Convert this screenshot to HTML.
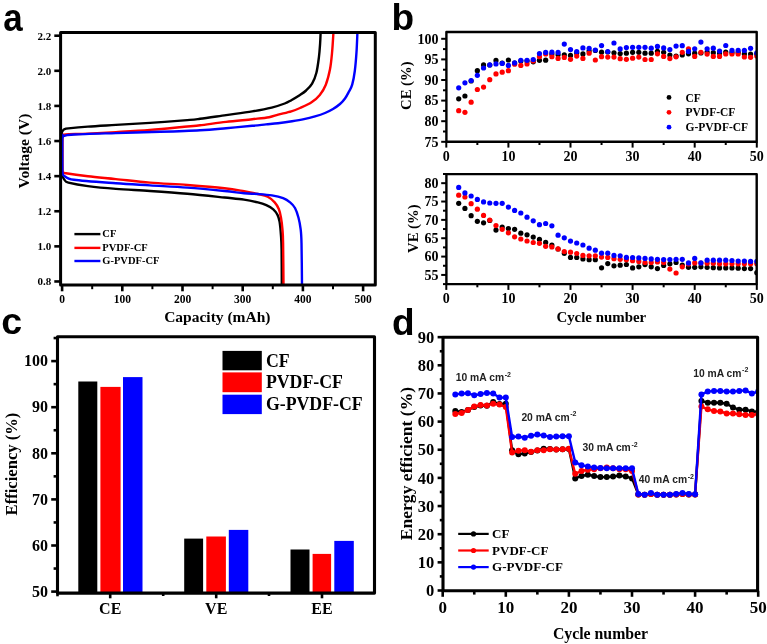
<!DOCTYPE html>
<html><head><meta charset="utf-8"><style>
html,body{margin:0;padding:0;background:#fff;width:767px;height:644px;overflow:hidden}
svg{display:block;will-change:transform}
</style></head><body>
<svg width="767" height="644" viewBox="0 0 767 644">
<rect width="767" height="644" fill="#fff"/>
<line x1="54.30" y1="35.70" x2="60.60" y2="35.70" stroke="#000" stroke-width="2.6" stroke-linecap="butt"/>
<text x="51.2" y="39.6" style="font-family:'Liberation Serif',serif;font-weight:bold;font-size:11px" text-anchor="end" fill="#000" >2.2</text>
<line x1="54.30" y1="70.81" x2="60.60" y2="70.81" stroke="#000" stroke-width="2.6" stroke-linecap="butt"/>
<text x="51.2" y="74.7" style="font-family:'Liberation Serif',serif;font-weight:bold;font-size:11px" text-anchor="end" fill="#000" >2.0</text>
<line x1="54.30" y1="105.92" x2="60.60" y2="105.92" stroke="#000" stroke-width="2.6" stroke-linecap="butt"/>
<text x="51.2" y="109.8" style="font-family:'Liberation Serif',serif;font-weight:bold;font-size:11px" text-anchor="end" fill="#000" >1.8</text>
<line x1="54.30" y1="141.03" x2="60.60" y2="141.03" stroke="#000" stroke-width="2.6" stroke-linecap="butt"/>
<text x="51.2" y="144.9" style="font-family:'Liberation Serif',serif;font-weight:bold;font-size:11px" text-anchor="end" fill="#000" >1.6</text>
<line x1="54.30" y1="176.14" x2="60.60" y2="176.14" stroke="#000" stroke-width="2.6" stroke-linecap="butt"/>
<text x="51.2" y="180.0" style="font-family:'Liberation Serif',serif;font-weight:bold;font-size:11px" text-anchor="end" fill="#000" >1.4</text>
<line x1="54.30" y1="211.25" x2="60.60" y2="211.25" stroke="#000" stroke-width="2.6" stroke-linecap="butt"/>
<text x="51.2" y="215.2" style="font-family:'Liberation Serif',serif;font-weight:bold;font-size:11px" text-anchor="end" fill="#000" >1.2</text>
<line x1="54.30" y1="246.36" x2="60.60" y2="246.36" stroke="#000" stroke-width="2.6" stroke-linecap="butt"/>
<text x="51.2" y="250.3" style="font-family:'Liberation Serif',serif;font-weight:bold;font-size:11px" text-anchor="end" fill="#000" >1.0</text>
<line x1="54.30" y1="281.47" x2="60.60" y2="281.47" stroke="#000" stroke-width="2.6" stroke-linecap="butt"/>
<text x="51.2" y="285.4" style="font-family:'Liberation Serif',serif;font-weight:bold;font-size:11px" text-anchor="end" fill="#000" >0.8</text>
<line x1="62.10" y1="285.10" x2="62.10" y2="291.30" stroke="#000" stroke-width="2.6" stroke-linecap="butt"/>
<text x="62.1" y="303.2" style="font-family:'Liberation Serif',serif;font-weight:bold;font-size:11.5px" text-anchor="middle" fill="#000" >0</text>
<line x1="122.30" y1="285.10" x2="122.30" y2="291.30" stroke="#000" stroke-width="2.6" stroke-linecap="butt"/>
<text x="122.3" y="303.2" style="font-family:'Liberation Serif',serif;font-weight:bold;font-size:11.5px" text-anchor="middle" fill="#000" >100</text>
<line x1="182.50" y1="285.10" x2="182.50" y2="291.30" stroke="#000" stroke-width="2.6" stroke-linecap="butt"/>
<text x="182.5" y="303.2" style="font-family:'Liberation Serif',serif;font-weight:bold;font-size:11.5px" text-anchor="middle" fill="#000" >200</text>
<line x1="242.70" y1="285.10" x2="242.70" y2="291.30" stroke="#000" stroke-width="2.6" stroke-linecap="butt"/>
<text x="242.7" y="303.2" style="font-family:'Liberation Serif',serif;font-weight:bold;font-size:11.5px" text-anchor="middle" fill="#000" >300</text>
<line x1="302.90" y1="285.10" x2="302.90" y2="291.30" stroke="#000" stroke-width="2.6" stroke-linecap="butt"/>
<text x="302.9" y="303.2" style="font-family:'Liberation Serif',serif;font-weight:bold;font-size:11.5px" text-anchor="middle" fill="#000" >400</text>
<line x1="363.10" y1="285.10" x2="363.10" y2="291.30" stroke="#000" stroke-width="2.6" stroke-linecap="butt"/>
<text x="363.1" y="303.2" style="font-family:'Liberation Serif',serif;font-weight:bold;font-size:11.5px" text-anchor="middle" fill="#000" >500</text>
<line x1="92.20" y1="285.10" x2="92.20" y2="289.20" stroke="#000" stroke-width="2.0" stroke-linecap="butt"/>
<line x1="152.40" y1="285.10" x2="152.40" y2="289.20" stroke="#000" stroke-width="2.0" stroke-linecap="butt"/>
<line x1="212.60" y1="285.10" x2="212.60" y2="289.20" stroke="#000" stroke-width="2.0" stroke-linecap="butt"/>
<line x1="272.80" y1="285.10" x2="272.80" y2="289.20" stroke="#000" stroke-width="2.0" stroke-linecap="butt"/>
<line x1="333.00" y1="285.10" x2="333.00" y2="289.20" stroke="#000" stroke-width="2.0" stroke-linecap="butt"/>
<text x="217.3" y="321.8" style="font-family:'Liberation Serif',serif;font-weight:bold;font-size:15.5px" text-anchor="middle" fill="#000" >Capacity (mAh)</text>
<text x="0.0" y="0.0" style="font-family:'Liberation Serif',serif;font-weight:bold;font-size:15.5px" text-anchor="middle" fill="#000" transform="translate(29.3,151) rotate(-90)">Voltage (V)</text>
<path d="M61.80,150.00 C61.80,154.00 61.63,169.50 61.80,174.00 C61.97,178.50 62.27,175.92 62.80,177.00 C63.33,178.08 64.07,179.57 65.00,180.50 C65.93,181.43 64.58,181.67 68.40,182.60 C72.22,183.53 79.98,185.05 87.90,186.10 C95.82,187.15 105.55,188.08 115.90,188.90 C126.25,189.72 138.10,190.18 150.00,191.00 C161.90,191.82 174.88,192.72 187.30,193.80 C199.72,194.88 215.05,196.53 224.50,197.50 C233.95,198.47 238.43,198.78 244.00,199.60 C249.57,200.42 254.18,201.47 257.90,202.40 C261.62,203.33 263.73,204.05 266.30,205.20 C268.87,206.35 271.43,207.68 273.30,209.30 C275.17,210.92 276.45,212.80 277.50,214.90 C278.55,217.00 279.02,218.40 279.60,221.90 C280.18,225.40 280.67,231.22 281.00,235.90 C281.33,240.58 281.47,241.82 281.60,250.00 C281.73,258.18 281.77,279.17 281.80,285.00" fill="none" stroke="#000" stroke-width="2.4" stroke-linejoin="round" stroke-linecap="butt"/>
<path d="M61.80,150.00 C61.80,147.33 61.67,137.17 61.80,134.00 C61.93,130.83 62.15,131.80 62.60,131.00 C63.05,130.20 63.53,129.63 64.50,129.20 C65.47,128.77 64.50,128.83 68.40,128.40 C72.30,127.97 79.98,127.18 87.90,126.60 C95.82,126.02 105.55,125.52 115.90,124.90 C126.25,124.28 138.10,123.70 150.00,122.90 C161.90,122.10 178.97,120.78 187.30,120.10 C195.63,119.42 193.53,119.63 200.00,118.80 C206.47,117.97 217.40,116.33 226.10,115.10 C234.80,113.87 244.60,112.65 252.20,111.40 C259.80,110.15 266.28,108.92 271.70,107.60 C277.12,106.28 281.43,104.73 284.70,103.50 C287.97,102.27 288.75,101.62 291.30,100.20 C293.85,98.78 297.53,96.62 300.00,95.00 C302.47,93.38 304.08,92.38 306.10,90.50 C308.12,88.62 310.38,86.67 312.10,83.70 C313.82,80.73 315.27,77.10 316.40,72.70 C317.53,68.30 318.28,62.13 318.90,57.30 C319.52,52.47 319.82,47.75 320.10,43.70 C320.38,39.65 320.52,34.78 320.60,33.00" fill="none" stroke="#000" stroke-width="2.4" stroke-linejoin="round" stroke-linecap="butt"/>
<path d="M62.50,150.00 C62.52,153.33 62.43,166.28 62.60,170.00 C62.77,173.72 62.93,171.75 63.50,172.30 C64.07,172.85 61.93,172.63 66.00,173.30 C70.07,173.97 79.58,175.33 87.90,176.30 C96.22,177.27 105.55,178.05 115.90,179.10 C126.25,180.15 138.10,181.62 150.00,182.60 C161.90,183.58 174.88,184.07 187.30,185.00 C199.72,185.93 215.05,187.17 224.50,188.20 C233.95,189.23 238.43,190.23 244.00,191.20 C249.57,192.17 253.95,193.07 257.90,194.00 C261.85,194.93 264.90,195.40 267.70,196.80 C270.50,198.20 272.83,200.32 274.70,202.40 C276.57,204.48 277.85,206.75 278.90,209.30 C279.95,211.85 280.42,214.43 281.00,217.70 C281.58,220.97 282.05,224.70 282.40,228.90 C282.75,233.10 282.92,233.55 283.10,242.90 C283.28,252.25 283.43,277.98 283.50,285.00" fill="none" stroke="#f00" stroke-width="2.4" stroke-linejoin="round" stroke-linecap="butt"/>
<path d="M62.50,150.00 C62.52,147.83 62.43,139.47 62.60,137.00 C62.77,134.53 63.02,135.63 63.50,135.20 C63.98,134.77 61.43,134.67 65.50,134.40 C69.57,134.13 79.50,133.98 87.90,133.60 C96.30,133.22 105.55,132.72 115.90,132.10 C126.25,131.48 138.10,130.83 150.00,129.90 C161.90,128.97 178.97,127.27 187.30,126.50 C195.63,125.73 193.53,126.07 200.00,125.30 C206.47,124.53 217.40,122.92 226.10,121.90 C234.80,120.88 245.03,119.98 252.20,119.20 C259.37,118.42 264.77,117.97 269.10,117.20 C273.43,116.43 274.50,115.58 278.20,114.60 C281.90,113.62 287.67,112.40 291.30,111.30 C294.93,110.20 296.68,109.45 300.00,108.00 C303.32,106.55 307.90,104.78 311.20,102.60 C314.50,100.42 317.37,97.88 319.80,94.90 C322.23,91.92 324.10,88.97 325.80,84.70 C327.50,80.43 328.95,74.72 330.00,69.30 C331.05,63.88 331.53,58.25 332.10,52.20 C332.67,46.15 333.18,36.20 333.40,33.00" fill="none" stroke="#f00" stroke-width="2.4" stroke-linejoin="round" stroke-linecap="butt"/>
<path d="M62.40,172.00 C62.50,172.42 62.65,173.83 63.00,174.50 C63.35,175.17 62.67,175.12 64.50,176.00 C66.33,176.88 65.43,178.58 74.00,179.80 C82.57,181.02 103.23,182.37 115.90,183.30 C128.57,184.23 138.10,184.68 150.00,185.40 C161.90,186.12 174.88,186.67 187.30,187.60 C199.72,188.53 215.05,190.05 224.50,191.00 C233.95,191.95 238.43,192.80 244.00,193.30 C249.57,193.80 253.25,193.65 257.90,194.00 C262.55,194.35 267.70,194.70 271.90,195.40 C276.10,196.10 280.07,197.03 283.10,198.20 C286.13,199.37 288.12,200.77 290.10,202.40 C292.08,204.03 293.60,205.45 295.00,208.00 C296.40,210.55 297.57,214.22 298.50,217.70 C299.43,221.18 300.10,224.70 300.60,228.90 C301.10,233.10 301.27,233.55 301.50,242.90 C301.73,252.25 301.92,277.98 302.00,285.00" fill="none" stroke="#00f" stroke-width="2.4" stroke-linejoin="round" stroke-linecap="butt"/>
<path d="M62.40,172.00 C62.40,166.33 62.27,143.92 62.40,138.00 C62.53,132.08 62.77,136.90 63.20,136.50 C63.63,136.10 63.20,135.93 65.00,135.60 C66.80,135.27 65.52,134.92 74.00,134.50 C82.48,134.08 101.57,133.55 115.90,133.10 C130.23,132.65 145.98,132.28 160.00,131.80 C174.02,131.32 188.98,130.80 200.00,130.20 C211.02,129.60 217.40,128.93 226.10,128.20 C234.80,127.47 245.55,126.43 252.20,125.80 C258.85,125.17 261.70,124.83 266.00,124.40 C270.30,123.97 273.67,123.72 278.00,123.20 C282.33,122.68 287.67,121.97 292.00,121.30 C296.33,120.63 300.17,120.02 304.00,119.20 C307.83,118.38 311.50,117.43 315.00,116.40 C318.50,115.37 322.00,114.23 325.00,113.00 C328.00,111.77 330.50,110.50 333.00,109.00 C335.50,107.50 338.00,105.75 340.00,104.00 C342.00,102.25 343.50,100.58 345.00,98.50 C346.50,96.42 347.80,93.80 349.00,91.50 C350.20,89.20 351.23,88.12 352.20,84.70 C353.17,81.28 354.08,76.42 354.80,71.00 C355.52,65.58 356.07,58.53 356.50,52.20 C356.93,45.87 357.25,36.20 357.40,33.00" fill="none" stroke="#00f" stroke-width="2.4" stroke-linejoin="round" stroke-linecap="butt"/>
<rect x="60.60" y="32.60" width="314.70" height="252.50" fill="none" stroke="#000" stroke-width="3.0" stroke-linejoin="round"/>
<line x1="74.40" y1="234.10" x2="100.40" y2="234.10" stroke="#000" stroke-width="2.4" stroke-linecap="butt"/>
<line x1="74.40" y1="247.90" x2="100.40" y2="247.90" stroke="#f00" stroke-width="2.4" stroke-linecap="butt"/>
<line x1="74.40" y1="261.00" x2="100.40" y2="261.00" stroke="#00f" stroke-width="2.4" stroke-linecap="butt"/>
<text x="102.3" y="237.3" style="font-family:'Liberation Serif',serif;font-weight:bold;font-size:10.5px" text-anchor="start" fill="#000" >CF</text>
<text x="102.3" y="251.1" style="font-family:'Liberation Serif',serif;font-weight:bold;font-size:10.5px" text-anchor="start" fill="#000" >PVDF-CF</text>
<text x="102.3" y="264.2" style="font-family:'Liberation Serif',serif;font-weight:bold;font-size:10.5px" text-anchor="start" fill="#000" >G-PVDF-CF</text>
<text x="0.0" y="0.0" style="font-family:'Liberation Sans',sans-serif;font-weight:bold;font-size:38px" text-anchor="start" fill="#000" transform="translate(3.3,30.9) scale(0.92,1)">a</text>
<line x1="441.20" y1="141.80" x2="446.40" y2="141.80" stroke="#000" stroke-width="2.0" stroke-linecap="butt"/>
<text x="438.6" y="146.5" style="font-family:'Liberation Serif',serif;font-weight:bold;font-size:14px" text-anchor="end" fill="#000" >75</text>
<line x1="441.20" y1="121.20" x2="446.40" y2="121.20" stroke="#000" stroke-width="2.0" stroke-linecap="butt"/>
<text x="438.6" y="125.9" style="font-family:'Liberation Serif',serif;font-weight:bold;font-size:14px" text-anchor="end" fill="#000" >80</text>
<line x1="441.20" y1="100.60" x2="446.40" y2="100.60" stroke="#000" stroke-width="2.0" stroke-linecap="butt"/>
<text x="438.6" y="105.3" style="font-family:'Liberation Serif',serif;font-weight:bold;font-size:14px" text-anchor="end" fill="#000" >85</text>
<line x1="441.20" y1="80.00" x2="446.40" y2="80.00" stroke="#000" stroke-width="2.0" stroke-linecap="butt"/>
<text x="438.6" y="84.7" style="font-family:'Liberation Serif',serif;font-weight:bold;font-size:14px" text-anchor="end" fill="#000" >90</text>
<line x1="441.20" y1="59.40" x2="446.40" y2="59.40" stroke="#000" stroke-width="2.0" stroke-linecap="butt"/>
<text x="438.6" y="64.1" style="font-family:'Liberation Serif',serif;font-weight:bold;font-size:14px" text-anchor="end" fill="#000" >95</text>
<line x1="441.20" y1="38.80" x2="446.40" y2="38.80" stroke="#000" stroke-width="2.0" stroke-linecap="butt"/>
<text x="438.6" y="43.5" style="font-family:'Liberation Serif',serif;font-weight:bold;font-size:14px" text-anchor="end" fill="#000" >100</text>
<line x1="443.00" y1="131.50" x2="446.40" y2="131.50" stroke="#000" stroke-width="2.0" stroke-linecap="butt"/>
<line x1="443.00" y1="110.90" x2="446.40" y2="110.90" stroke="#000" stroke-width="2.0" stroke-linecap="butt"/>
<line x1="443.00" y1="90.30" x2="446.40" y2="90.30" stroke="#000" stroke-width="2.0" stroke-linecap="butt"/>
<line x1="443.00" y1="69.70" x2="446.40" y2="69.70" stroke="#000" stroke-width="2.0" stroke-linecap="butt"/>
<line x1="443.00" y1="49.10" x2="446.40" y2="49.10" stroke="#000" stroke-width="2.0" stroke-linecap="butt"/>
<line x1="441.20" y1="274.93" x2="446.40" y2="274.93" stroke="#000" stroke-width="2.0" stroke-linecap="butt"/>
<text x="438.6" y="279.6" style="font-family:'Liberation Serif',serif;font-weight:bold;font-size:14px" text-anchor="end" fill="#000" >55</text>
<line x1="441.20" y1="256.58" x2="446.40" y2="256.58" stroke="#000" stroke-width="2.0" stroke-linecap="butt"/>
<text x="438.6" y="261.3" style="font-family:'Liberation Serif',serif;font-weight:bold;font-size:14px" text-anchor="end" fill="#000" >60</text>
<line x1="441.20" y1="238.23" x2="446.40" y2="238.23" stroke="#000" stroke-width="2.0" stroke-linecap="butt"/>
<text x="438.6" y="242.9" style="font-family:'Liberation Serif',serif;font-weight:bold;font-size:14px" text-anchor="end" fill="#000" >65</text>
<line x1="441.20" y1="219.88" x2="446.40" y2="219.88" stroke="#000" stroke-width="2.0" stroke-linecap="butt"/>
<text x="438.6" y="224.6" style="font-family:'Liberation Serif',serif;font-weight:bold;font-size:14px" text-anchor="end" fill="#000" >70</text>
<line x1="441.20" y1="201.53" x2="446.40" y2="201.53" stroke="#000" stroke-width="2.0" stroke-linecap="butt"/>
<text x="438.6" y="206.2" style="font-family:'Liberation Serif',serif;font-weight:bold;font-size:14px" text-anchor="end" fill="#000" >75</text>
<line x1="441.20" y1="183.18" x2="446.40" y2="183.18" stroke="#000" stroke-width="2.0" stroke-linecap="butt"/>
<text x="438.6" y="187.9" style="font-family:'Liberation Serif',serif;font-weight:bold;font-size:14px" text-anchor="end" fill="#000" >80</text>
<line x1="443.00" y1="284.10" x2="446.40" y2="284.10" stroke="#000" stroke-width="2.0" stroke-linecap="butt"/>
<line x1="443.00" y1="265.75" x2="446.40" y2="265.75" stroke="#000" stroke-width="2.0" stroke-linecap="butt"/>
<line x1="443.00" y1="247.40" x2="446.40" y2="247.40" stroke="#000" stroke-width="2.0" stroke-linecap="butt"/>
<line x1="443.00" y1="229.05" x2="446.40" y2="229.05" stroke="#000" stroke-width="2.0" stroke-linecap="butt"/>
<line x1="443.00" y1="210.70" x2="446.40" y2="210.70" stroke="#000" stroke-width="2.0" stroke-linecap="butt"/>
<line x1="443.00" y1="192.35" x2="446.40" y2="192.35" stroke="#000" stroke-width="2.0" stroke-linecap="butt"/>
<line x1="443.00" y1="174.00" x2="446.40" y2="174.00" stroke="#000" stroke-width="2.0" stroke-linecap="butt"/>
<line x1="446.30" y1="141.80" x2="446.30" y2="147.60" stroke="#000" stroke-width="2.0" stroke-linecap="butt"/>
<text x="446.3" y="160.6" style="font-family:'Liberation Serif',serif;font-weight:bold;font-size:14px" text-anchor="middle" fill="#000" >0</text>
<line x1="508.40" y1="141.80" x2="508.40" y2="147.60" stroke="#000" stroke-width="2.0" stroke-linecap="butt"/>
<text x="508.4" y="160.6" style="font-family:'Liberation Serif',serif;font-weight:bold;font-size:14px" text-anchor="middle" fill="#000" >10</text>
<line x1="570.50" y1="141.80" x2="570.50" y2="147.60" stroke="#000" stroke-width="2.0" stroke-linecap="butt"/>
<text x="570.5" y="160.6" style="font-family:'Liberation Serif',serif;font-weight:bold;font-size:14px" text-anchor="middle" fill="#000" >20</text>
<line x1="632.60" y1="141.80" x2="632.60" y2="147.60" stroke="#000" stroke-width="2.0" stroke-linecap="butt"/>
<text x="632.6" y="160.6" style="font-family:'Liberation Serif',serif;font-weight:bold;font-size:14px" text-anchor="middle" fill="#000" >30</text>
<line x1="694.70" y1="141.80" x2="694.70" y2="147.60" stroke="#000" stroke-width="2.0" stroke-linecap="butt"/>
<text x="694.7" y="160.6" style="font-family:'Liberation Serif',serif;font-weight:bold;font-size:14px" text-anchor="middle" fill="#000" >40</text>
<line x1="756.80" y1="141.80" x2="756.80" y2="147.60" stroke="#000" stroke-width="2.0" stroke-linecap="butt"/>
<text x="756.8" y="160.6" style="font-family:'Liberation Serif',serif;font-weight:bold;font-size:14px" text-anchor="middle" fill="#000" >50</text>
<line x1="477.35" y1="141.80" x2="477.35" y2="145.00" stroke="#000" stroke-width="2.0" stroke-linecap="butt"/>
<line x1="539.45" y1="141.80" x2="539.45" y2="145.00" stroke="#000" stroke-width="2.0" stroke-linecap="butt"/>
<line x1="601.55" y1="141.80" x2="601.55" y2="145.00" stroke="#000" stroke-width="2.0" stroke-linecap="butt"/>
<line x1="663.65" y1="141.80" x2="663.65" y2="145.00" stroke="#000" stroke-width="2.0" stroke-linecap="butt"/>
<line x1="725.75" y1="141.80" x2="725.75" y2="145.00" stroke="#000" stroke-width="2.0" stroke-linecap="butt"/>
<line x1="446.30" y1="284.10" x2="446.30" y2="289.90" stroke="#000" stroke-width="2.0" stroke-linecap="butt"/>
<text x="446.3" y="303.2" style="font-family:'Liberation Serif',serif;font-weight:bold;font-size:14px" text-anchor="middle" fill="#000" >0</text>
<line x1="508.40" y1="284.10" x2="508.40" y2="289.90" stroke="#000" stroke-width="2.0" stroke-linecap="butt"/>
<text x="508.4" y="303.2" style="font-family:'Liberation Serif',serif;font-weight:bold;font-size:14px" text-anchor="middle" fill="#000" >10</text>
<line x1="570.50" y1="284.10" x2="570.50" y2="289.90" stroke="#000" stroke-width="2.0" stroke-linecap="butt"/>
<text x="570.5" y="303.2" style="font-family:'Liberation Serif',serif;font-weight:bold;font-size:14px" text-anchor="middle" fill="#000" >20</text>
<line x1="632.60" y1="284.10" x2="632.60" y2="289.90" stroke="#000" stroke-width="2.0" stroke-linecap="butt"/>
<text x="632.6" y="303.2" style="font-family:'Liberation Serif',serif;font-weight:bold;font-size:14px" text-anchor="middle" fill="#000" >30</text>
<line x1="694.70" y1="284.10" x2="694.70" y2="289.90" stroke="#000" stroke-width="2.0" stroke-linecap="butt"/>
<text x="694.7" y="303.2" style="font-family:'Liberation Serif',serif;font-weight:bold;font-size:14px" text-anchor="middle" fill="#000" >40</text>
<line x1="756.80" y1="284.10" x2="756.80" y2="289.90" stroke="#000" stroke-width="2.0" stroke-linecap="butt"/>
<text x="756.8" y="303.2" style="font-family:'Liberation Serif',serif;font-weight:bold;font-size:14px" text-anchor="middle" fill="#000" >50</text>
<line x1="477.35" y1="284.10" x2="477.35" y2="287.30" stroke="#000" stroke-width="2.0" stroke-linecap="butt"/>
<line x1="539.45" y1="284.10" x2="539.45" y2="287.30" stroke="#000" stroke-width="2.0" stroke-linecap="butt"/>
<line x1="601.55" y1="284.10" x2="601.55" y2="287.30" stroke="#000" stroke-width="2.0" stroke-linecap="butt"/>
<line x1="663.65" y1="284.10" x2="663.65" y2="287.30" stroke="#000" stroke-width="2.0" stroke-linecap="butt"/>
<line x1="725.75" y1="284.10" x2="725.75" y2="287.30" stroke="#000" stroke-width="2.0" stroke-linecap="butt"/>
<text x="601.3" y="322.3" style="font-family:'Liberation Serif',serif;font-weight:bold;font-size:14.9px" text-anchor="middle" fill="#000" >Cycle number</text>
<text x="0.0" y="0.0" style="font-family:'Liberation Serif',serif;font-weight:bold;font-size:14.7px" text-anchor="middle" fill="#000" transform="translate(410.6,85.7) rotate(-90)">CE (%)</text>
<text x="0.0" y="0.0" style="font-family:'Liberation Serif',serif;font-weight:bold;font-size:14.7px" text-anchor="middle" fill="#000" transform="translate(418.4,228.7) rotate(-90)">VE (%)</text>
<defs><clipPath id="cpC"><rect x="446.4" y="32.0" width="310.30000000000007" height="109.80000000000001"/></clipPath><clipPath id="cpV"><rect x="446.4" y="174.1" width="310.30000000000007" height="110.00000000000003"/></clipPath><clipPath id="cpD"><rect x="443" y="337.2" width="314.6" height="253.6"/></clipPath></defs>
<g clip-path="url(#cpC)">
<circle cx="458.72" cy="98.80" r="2.6" fill="#000"/>
<circle cx="464.93" cy="96.00" r="2.6" fill="#000"/>
<circle cx="471.14" cy="81.00" r="2.6" fill="#000"/>
<circle cx="477.35" cy="70.70" r="2.6" fill="#000"/>
<circle cx="483.56" cy="64.90" r="2.6" fill="#000"/>
<circle cx="489.77" cy="65.00" r="2.6" fill="#000"/>
<circle cx="495.98" cy="60.40" r="2.6" fill="#000"/>
<circle cx="502.19" cy="63.00" r="2.6" fill="#000"/>
<circle cx="508.40" cy="60.00" r="2.6" fill="#000"/>
<circle cx="514.61" cy="63.00" r="2.6" fill="#000"/>
<circle cx="520.82" cy="61.00" r="2.6" fill="#000"/>
<circle cx="527.03" cy="61.00" r="2.6" fill="#000"/>
<circle cx="533.24" cy="61.80" r="2.6" fill="#000"/>
<circle cx="539.45" cy="60.30" r="2.6" fill="#000"/>
<circle cx="545.66" cy="60.20" r="2.6" fill="#000"/>
<circle cx="551.87" cy="54.00" r="2.6" fill="#000"/>
<circle cx="558.08" cy="54.80" r="2.6" fill="#000"/>
<circle cx="564.29" cy="54.80" r="2.6" fill="#000"/>
<circle cx="570.50" cy="55.40" r="2.6" fill="#000"/>
<circle cx="576.71" cy="53.00" r="2.6" fill="#000"/>
<circle cx="582.92" cy="53.90" r="2.6" fill="#000"/>
<circle cx="589.13" cy="51.00" r="2.6" fill="#000"/>
<circle cx="595.34" cy="50.50" r="2.6" fill="#000"/>
<circle cx="601.55" cy="52.20" r="2.6" fill="#000"/>
<circle cx="607.76" cy="52.00" r="2.6" fill="#000"/>
<circle cx="613.97" cy="52.80" r="2.6" fill="#000"/>
<circle cx="620.18" cy="53.50" r="2.6" fill="#000"/>
<circle cx="626.39" cy="53.20" r="2.6" fill="#000"/>
<circle cx="632.60" cy="52.30" r="2.6" fill="#000"/>
<circle cx="638.81" cy="52.30" r="2.6" fill="#000"/>
<circle cx="645.02" cy="53.20" r="2.6" fill="#000"/>
<circle cx="651.23" cy="53.20" r="2.6" fill="#000"/>
<circle cx="657.44" cy="51.40" r="2.6" fill="#000"/>
<circle cx="663.65" cy="52.30" r="2.6" fill="#000"/>
<circle cx="669.86" cy="55.00" r="2.6" fill="#000"/>
<circle cx="676.07" cy="56.00" r="2.6" fill="#000"/>
<circle cx="682.28" cy="55.00" r="2.6" fill="#000"/>
<circle cx="688.49" cy="53.80" r="2.6" fill="#000"/>
<circle cx="694.70" cy="53.20" r="2.6" fill="#000"/>
<circle cx="700.91" cy="53.00" r="2.6" fill="#000"/>
<circle cx="707.12" cy="52.00" r="2.6" fill="#000"/>
<circle cx="713.33" cy="52.70" r="2.6" fill="#000"/>
<circle cx="719.54" cy="53.00" r="2.6" fill="#000"/>
<circle cx="725.75" cy="52.00" r="2.6" fill="#000"/>
<circle cx="731.96" cy="52.50" r="2.6" fill="#000"/>
<circle cx="738.17" cy="52.50" r="2.6" fill="#000"/>
<circle cx="744.38" cy="53.90" r="2.6" fill="#000"/>
<circle cx="750.59" cy="54.00" r="2.6" fill="#000"/>
<circle cx="756.80" cy="54.00" r="2.6" fill="#000"/>
<circle cx="458.72" cy="110.70" r="2.6" fill="#f00"/>
<circle cx="464.93" cy="112.30" r="2.6" fill="#f00"/>
<circle cx="471.14" cy="102.20" r="2.6" fill="#f00"/>
<circle cx="477.35" cy="89.50" r="2.6" fill="#f00"/>
<circle cx="483.56" cy="87.10" r="2.6" fill="#f00"/>
<circle cx="489.77" cy="79.70" r="2.6" fill="#f00"/>
<circle cx="495.98" cy="73.90" r="2.6" fill="#f00"/>
<circle cx="502.19" cy="72.20" r="2.6" fill="#f00"/>
<circle cx="508.40" cy="70.70" r="2.6" fill="#f00"/>
<circle cx="514.61" cy="64.20" r="2.6" fill="#f00"/>
<circle cx="520.82" cy="65.40" r="2.6" fill="#f00"/>
<circle cx="527.03" cy="63.90" r="2.6" fill="#f00"/>
<circle cx="533.24" cy="61.00" r="2.6" fill="#f00"/>
<circle cx="539.45" cy="56.70" r="2.6" fill="#f00"/>
<circle cx="545.66" cy="54.00" r="2.6" fill="#f00"/>
<circle cx="551.87" cy="56.70" r="2.6" fill="#f00"/>
<circle cx="558.08" cy="58.40" r="2.6" fill="#f00"/>
<circle cx="564.29" cy="57.40" r="2.6" fill="#f00"/>
<circle cx="570.50" cy="59.30" r="2.6" fill="#f00"/>
<circle cx="576.71" cy="56.10" r="2.6" fill="#f00"/>
<circle cx="582.92" cy="58.40" r="2.6" fill="#f00"/>
<circle cx="589.13" cy="53.20" r="2.6" fill="#f00"/>
<circle cx="595.34" cy="60.00" r="2.6" fill="#f00"/>
<circle cx="601.55" cy="56.70" r="2.6" fill="#f00"/>
<circle cx="607.76" cy="57.10" r="2.6" fill="#f00"/>
<circle cx="613.97" cy="57.10" r="2.6" fill="#f00"/>
<circle cx="620.18" cy="58.70" r="2.6" fill="#f00"/>
<circle cx="626.39" cy="59.30" r="2.6" fill="#f00"/>
<circle cx="632.60" cy="58.20" r="2.6" fill="#f00"/>
<circle cx="638.81" cy="57.10" r="2.6" fill="#f00"/>
<circle cx="645.02" cy="59.50" r="2.6" fill="#f00"/>
<circle cx="651.23" cy="59.50" r="2.6" fill="#f00"/>
<circle cx="657.44" cy="53.80" r="2.6" fill="#f00"/>
<circle cx="663.65" cy="56.40" r="2.6" fill="#f00"/>
<circle cx="669.86" cy="58.60" r="2.6" fill="#f00"/>
<circle cx="676.07" cy="56.80" r="2.6" fill="#f00"/>
<circle cx="682.28" cy="52.30" r="2.6" fill="#f00"/>
<circle cx="688.49" cy="48.80" r="2.6" fill="#f00"/>
<circle cx="694.70" cy="56.40" r="2.6" fill="#f00"/>
<circle cx="700.91" cy="52.30" r="2.6" fill="#f00"/>
<circle cx="707.12" cy="54.10" r="2.6" fill="#f00"/>
<circle cx="713.33" cy="56.40" r="2.6" fill="#f00"/>
<circle cx="719.54" cy="56.40" r="2.6" fill="#f00"/>
<circle cx="725.75" cy="53.90" r="2.6" fill="#f00"/>
<circle cx="731.96" cy="53.90" r="2.6" fill="#f00"/>
<circle cx="738.17" cy="53.90" r="2.6" fill="#f00"/>
<circle cx="744.38" cy="57.00" r="2.6" fill="#f00"/>
<circle cx="750.59" cy="57.30" r="2.6" fill="#f00"/>
<circle cx="756.80" cy="55.90" r="2.6" fill="#f00"/>
<circle cx="458.72" cy="87.80" r="2.6" fill="#00f"/>
<circle cx="464.93" cy="82.80" r="2.6" fill="#00f"/>
<circle cx="471.14" cy="80.50" r="2.6" fill="#00f"/>
<circle cx="477.35" cy="75.30" r="2.6" fill="#00f"/>
<circle cx="483.56" cy="68.00" r="2.6" fill="#00f"/>
<circle cx="489.77" cy="64.90" r="2.6" fill="#00f"/>
<circle cx="495.98" cy="63.90" r="2.6" fill="#00f"/>
<circle cx="502.19" cy="63.40" r="2.6" fill="#00f"/>
<circle cx="508.40" cy="65.40" r="2.6" fill="#00f"/>
<circle cx="514.61" cy="62.90" r="2.6" fill="#00f"/>
<circle cx="520.82" cy="60.30" r="2.6" fill="#00f"/>
<circle cx="527.03" cy="60.30" r="2.6" fill="#00f"/>
<circle cx="533.24" cy="59.50" r="2.6" fill="#00f"/>
<circle cx="539.45" cy="53.60" r="2.6" fill="#00f"/>
<circle cx="545.66" cy="52.40" r="2.6" fill="#00f"/>
<circle cx="551.87" cy="52.20" r="2.6" fill="#00f"/>
<circle cx="558.08" cy="52.40" r="2.6" fill="#00f"/>
<circle cx="564.29" cy="44.10" r="2.6" fill="#00f"/>
<circle cx="570.50" cy="49.60" r="2.6" fill="#00f"/>
<circle cx="576.71" cy="51.50" r="2.6" fill="#00f"/>
<circle cx="582.92" cy="47.90" r="2.6" fill="#00f"/>
<circle cx="589.13" cy="48.30" r="2.6" fill="#00f"/>
<circle cx="595.34" cy="50.00" r="2.6" fill="#00f"/>
<circle cx="601.55" cy="45.60" r="2.6" fill="#00f"/>
<circle cx="607.76" cy="51.50" r="2.6" fill="#00f"/>
<circle cx="613.97" cy="43.00" r="2.6" fill="#00f"/>
<circle cx="620.18" cy="48.90" r="2.6" fill="#00f"/>
<circle cx="626.39" cy="47.60" r="2.6" fill="#00f"/>
<circle cx="632.60" cy="47.30" r="2.6" fill="#00f"/>
<circle cx="638.81" cy="47.30" r="2.6" fill="#00f"/>
<circle cx="645.02" cy="47.30" r="2.6" fill="#00f"/>
<circle cx="651.23" cy="48.20" r="2.6" fill="#00f"/>
<circle cx="657.44" cy="46.40" r="2.6" fill="#00f"/>
<circle cx="663.65" cy="47.90" r="2.6" fill="#00f"/>
<circle cx="669.86" cy="49.60" r="2.6" fill="#00f"/>
<circle cx="676.07" cy="46.10" r="2.6" fill="#00f"/>
<circle cx="682.28" cy="45.70" r="2.6" fill="#00f"/>
<circle cx="688.49" cy="51.40" r="2.6" fill="#00f"/>
<circle cx="694.70" cy="48.80" r="2.6" fill="#00f"/>
<circle cx="700.91" cy="42.10" r="2.6" fill="#00f"/>
<circle cx="707.12" cy="48.80" r="2.6" fill="#00f"/>
<circle cx="713.33" cy="48.20" r="2.6" fill="#00f"/>
<circle cx="719.54" cy="51.10" r="2.6" fill="#00f"/>
<circle cx="725.75" cy="45.50" r="2.6" fill="#00f"/>
<circle cx="731.96" cy="50.40" r="2.6" fill="#00f"/>
<circle cx="738.17" cy="50.40" r="2.6" fill="#00f"/>
<circle cx="744.38" cy="50.40" r="2.6" fill="#00f"/>
<circle cx="750.59" cy="48.30" r="2.6" fill="#00f"/>
<circle cx="756.80" cy="52.90" r="2.6" fill="#00f"/>
</g><g clip-path="url(#cpV)">
<circle cx="458.72" cy="203.30" r="2.6" fill="#000"/>
<circle cx="464.93" cy="208.40" r="2.6" fill="#000"/>
<circle cx="471.14" cy="215.70" r="2.6" fill="#000"/>
<circle cx="477.35" cy="221.30" r="2.6" fill="#000"/>
<circle cx="483.56" cy="222.80" r="2.6" fill="#000"/>
<circle cx="489.77" cy="220.50" r="2.6" fill="#000"/>
<circle cx="495.98" cy="230.10" r="2.6" fill="#000"/>
<circle cx="502.19" cy="227.00" r="2.6" fill="#000"/>
<circle cx="508.40" cy="228.60" r="2.6" fill="#000"/>
<circle cx="514.61" cy="229.30" r="2.6" fill="#000"/>
<circle cx="520.82" cy="233.20" r="2.6" fill="#000"/>
<circle cx="527.03" cy="234.80" r="2.6" fill="#000"/>
<circle cx="533.24" cy="237.10" r="2.6" fill="#000"/>
<circle cx="539.45" cy="239.40" r="2.6" fill="#000"/>
<circle cx="545.66" cy="242.40" r="2.6" fill="#000"/>
<circle cx="551.87" cy="245.00" r="2.6" fill="#000"/>
<circle cx="558.08" cy="249.00" r="2.6" fill="#000"/>
<circle cx="564.29" cy="253.50" r="2.6" fill="#000"/>
<circle cx="570.50" cy="257.40" r="2.6" fill="#000"/>
<circle cx="576.71" cy="257.40" r="2.6" fill="#000"/>
<circle cx="582.92" cy="258.90" r="2.6" fill="#000"/>
<circle cx="589.13" cy="259.70" r="2.6" fill="#000"/>
<circle cx="595.34" cy="259.70" r="2.6" fill="#000"/>
<circle cx="601.55" cy="267.80" r="2.6" fill="#000"/>
<circle cx="607.76" cy="263.60" r="2.6" fill="#000"/>
<circle cx="613.97" cy="265.80" r="2.6" fill="#000"/>
<circle cx="620.18" cy="265.20" r="2.6" fill="#000"/>
<circle cx="626.39" cy="264.50" r="2.6" fill="#000"/>
<circle cx="632.60" cy="267.90" r="2.6" fill="#000"/>
<circle cx="638.81" cy="266.80" r="2.6" fill="#000"/>
<circle cx="645.02" cy="264.60" r="2.6" fill="#000"/>
<circle cx="651.23" cy="266.80" r="2.6" fill="#000"/>
<circle cx="657.44" cy="268.60" r="2.6" fill="#000"/>
<circle cx="663.65" cy="265.50" r="2.6" fill="#000"/>
<circle cx="669.86" cy="263.80" r="2.6" fill="#000"/>
<circle cx="676.07" cy="262.50" r="2.6" fill="#000"/>
<circle cx="682.28" cy="265.00" r="2.6" fill="#000"/>
<circle cx="688.49" cy="267.30" r="2.6" fill="#000"/>
<circle cx="694.70" cy="267.30" r="2.6" fill="#000"/>
<circle cx="700.91" cy="266.80" r="2.6" fill="#000"/>
<circle cx="707.12" cy="267.30" r="2.6" fill="#000"/>
<circle cx="713.33" cy="267.70" r="2.6" fill="#000"/>
<circle cx="719.54" cy="267.90" r="2.6" fill="#000"/>
<circle cx="725.75" cy="267.90" r="2.6" fill="#000"/>
<circle cx="731.96" cy="267.90" r="2.6" fill="#000"/>
<circle cx="738.17" cy="268.20" r="2.6" fill="#000"/>
<circle cx="744.38" cy="268.60" r="2.6" fill="#000"/>
<circle cx="750.59" cy="268.60" r="2.6" fill="#000"/>
<circle cx="756.80" cy="272.70" r="2.6" fill="#000"/>
<circle cx="458.72" cy="195.20" r="2.6" fill="#f00"/>
<circle cx="464.93" cy="197.00" r="2.6" fill="#f00"/>
<circle cx="471.14" cy="203.70" r="2.6" fill="#f00"/>
<circle cx="477.35" cy="209.20" r="2.6" fill="#f00"/>
<circle cx="483.56" cy="215.40" r="2.6" fill="#f00"/>
<circle cx="489.77" cy="220.00" r="2.6" fill="#f00"/>
<circle cx="495.98" cy="225.50" r="2.6" fill="#f00"/>
<circle cx="502.19" cy="229.30" r="2.6" fill="#f00"/>
<circle cx="508.40" cy="232.80" r="2.6" fill="#f00"/>
<circle cx="514.61" cy="236.80" r="2.6" fill="#f00"/>
<circle cx="520.82" cy="239.00" r="2.6" fill="#f00"/>
<circle cx="527.03" cy="241.00" r="2.6" fill="#f00"/>
<circle cx="533.24" cy="242.50" r="2.6" fill="#f00"/>
<circle cx="539.45" cy="243.30" r="2.6" fill="#f00"/>
<circle cx="545.66" cy="246.30" r="2.6" fill="#f00"/>
<circle cx="551.87" cy="246.90" r="2.6" fill="#f00"/>
<circle cx="558.08" cy="248.90" r="2.6" fill="#f00"/>
<circle cx="564.29" cy="251.50" r="2.6" fill="#f00"/>
<circle cx="570.50" cy="252.20" r="2.6" fill="#f00"/>
<circle cx="576.71" cy="253.50" r="2.6" fill="#f00"/>
<circle cx="582.92" cy="255.40" r="2.6" fill="#f00"/>
<circle cx="589.13" cy="255.80" r="2.6" fill="#f00"/>
<circle cx="595.34" cy="255.80" r="2.6" fill="#f00"/>
<circle cx="601.55" cy="257.10" r="2.6" fill="#f00"/>
<circle cx="607.76" cy="257.40" r="2.6" fill="#f00"/>
<circle cx="613.97" cy="258.70" r="2.6" fill="#f00"/>
<circle cx="620.18" cy="259.30" r="2.6" fill="#f00"/>
<circle cx="626.39" cy="259.70" r="2.6" fill="#f00"/>
<circle cx="632.60" cy="260.70" r="2.6" fill="#f00"/>
<circle cx="638.81" cy="261.40" r="2.6" fill="#f00"/>
<circle cx="645.02" cy="262.50" r="2.6" fill="#f00"/>
<circle cx="651.23" cy="262.50" r="2.6" fill="#f00"/>
<circle cx="657.44" cy="262.00" r="2.6" fill="#f00"/>
<circle cx="663.65" cy="262.50" r="2.6" fill="#f00"/>
<circle cx="669.86" cy="269.10" r="2.6" fill="#f00"/>
<circle cx="676.07" cy="273.00" r="2.6" fill="#f00"/>
<circle cx="682.28" cy="266.80" r="2.6" fill="#f00"/>
<circle cx="688.49" cy="264.00" r="2.6" fill="#f00"/>
<circle cx="694.70" cy="262.90" r="2.6" fill="#f00"/>
<circle cx="700.91" cy="263.00" r="2.6" fill="#f00"/>
<circle cx="707.12" cy="263.20" r="2.6" fill="#f00"/>
<circle cx="713.33" cy="263.20" r="2.6" fill="#f00"/>
<circle cx="719.54" cy="263.80" r="2.6" fill="#f00"/>
<circle cx="725.75" cy="263.80" r="2.6" fill="#f00"/>
<circle cx="731.96" cy="263.80" r="2.6" fill="#f00"/>
<circle cx="738.17" cy="263.80" r="2.6" fill="#f00"/>
<circle cx="744.38" cy="263.80" r="2.6" fill="#f00"/>
<circle cx="750.59" cy="263.80" r="2.6" fill="#f00"/>
<circle cx="756.80" cy="263.80" r="2.6" fill="#f00"/>
<circle cx="458.72" cy="187.40" r="2.6" fill="#00f"/>
<circle cx="464.93" cy="192.90" r="2.6" fill="#00f"/>
<circle cx="471.14" cy="196.00" r="2.6" fill="#00f"/>
<circle cx="477.35" cy="199.40" r="2.6" fill="#00f"/>
<circle cx="483.56" cy="201.90" r="2.6" fill="#00f"/>
<circle cx="489.77" cy="203.00" r="2.6" fill="#00f"/>
<circle cx="495.98" cy="203.30" r="2.6" fill="#00f"/>
<circle cx="502.19" cy="203.30" r="2.6" fill="#00f"/>
<circle cx="508.40" cy="207.10" r="2.6" fill="#00f"/>
<circle cx="514.61" cy="210.40" r="2.6" fill="#00f"/>
<circle cx="520.82" cy="213.00" r="2.6" fill="#00f"/>
<circle cx="527.03" cy="217.20" r="2.6" fill="#00f"/>
<circle cx="533.24" cy="220.80" r="2.6" fill="#00f"/>
<circle cx="539.45" cy="224.70" r="2.6" fill="#00f"/>
<circle cx="545.66" cy="223.50" r="2.6" fill="#00f"/>
<circle cx="551.87" cy="225.80" r="2.6" fill="#00f"/>
<circle cx="558.08" cy="235.20" r="2.6" fill="#00f"/>
<circle cx="564.29" cy="237.80" r="2.6" fill="#00f"/>
<circle cx="570.50" cy="241.10" r="2.6" fill="#00f"/>
<circle cx="576.71" cy="243.00" r="2.6" fill="#00f"/>
<circle cx="582.92" cy="245.00" r="2.6" fill="#00f"/>
<circle cx="589.13" cy="248.20" r="2.6" fill="#00f"/>
<circle cx="595.34" cy="250.20" r="2.6" fill="#00f"/>
<circle cx="601.55" cy="253.20" r="2.6" fill="#00f"/>
<circle cx="607.76" cy="253.20" r="2.6" fill="#00f"/>
<circle cx="613.97" cy="255.40" r="2.6" fill="#00f"/>
<circle cx="620.18" cy="255.80" r="2.6" fill="#00f"/>
<circle cx="626.39" cy="257.40" r="2.6" fill="#00f"/>
<circle cx="632.60" cy="257.50" r="2.6" fill="#00f"/>
<circle cx="638.81" cy="257.90" r="2.6" fill="#00f"/>
<circle cx="645.02" cy="258.40" r="2.6" fill="#00f"/>
<circle cx="651.23" cy="258.90" r="2.6" fill="#00f"/>
<circle cx="657.44" cy="259.30" r="2.6" fill="#00f"/>
<circle cx="663.65" cy="259.60" r="2.6" fill="#00f"/>
<circle cx="669.86" cy="259.60" r="2.6" fill="#00f"/>
<circle cx="676.07" cy="259.30" r="2.6" fill="#00f"/>
<circle cx="682.28" cy="259.30" r="2.6" fill="#00f"/>
<circle cx="688.49" cy="262.90" r="2.6" fill="#00f"/>
<circle cx="694.70" cy="258.40" r="2.6" fill="#00f"/>
<circle cx="700.91" cy="262.90" r="2.6" fill="#00f"/>
<circle cx="707.12" cy="260.20" r="2.6" fill="#00f"/>
<circle cx="713.33" cy="260.20" r="2.6" fill="#00f"/>
<circle cx="719.54" cy="260.20" r="2.6" fill="#00f"/>
<circle cx="725.75" cy="260.20" r="2.6" fill="#00f"/>
<circle cx="731.96" cy="260.50" r="2.6" fill="#00f"/>
<circle cx="738.17" cy="261.10" r="2.6" fill="#00f"/>
<circle cx="744.38" cy="261.10" r="2.6" fill="#00f"/>
<circle cx="750.59" cy="261.40" r="2.6" fill="#00f"/>
<circle cx="756.80" cy="261.40" r="2.6" fill="#00f"/>
</g>
<rect x="446.40" y="32.00" width="310.30" height="109.80" fill="none" stroke="#000" stroke-width="2.4" stroke-linejoin="round"/>
<rect x="446.40" y="174.10" width="310.30" height="110.00" fill="none" stroke="#000" stroke-width="2.4" stroke-linejoin="round"/>
<circle cx="669.00" cy="97.40" r="2.4" fill="#000"/>
<circle cx="669.00" cy="112.30" r="2.4" fill="#f00"/>
<circle cx="669.00" cy="127.20" r="2.4" fill="#00f"/>
<text x="685.5" y="101.5" style="font-family:'Liberation Serif',serif;font-weight:bold;font-size:11.5px" text-anchor="start" fill="#000" >CF</text>
<text x="685.5" y="116.0" style="font-family:'Liberation Serif',serif;font-weight:bold;font-size:11.5px" text-anchor="start" fill="#000" >PVDF-CF</text>
<text x="685.5" y="130.8" style="font-family:'Liberation Serif',serif;font-weight:bold;font-size:11.5px" text-anchor="start" fill="#000" >G-PVDF-CF</text>
<text x="391.6" y="29.8" style="font-family:'Liberation Sans',sans-serif;font-weight:bold;font-size:37px" text-anchor="start" fill="#000" >b</text>
<line x1="51.20" y1="591.60" x2="57.50" y2="591.60" stroke="#000" stroke-width="2.6" stroke-linecap="butt"/>
<text x="47.9" y="596.8" style="font-family:'Liberation Serif',serif;font-weight:bold;font-size:16px" text-anchor="end" fill="#000" >50</text>
<line x1="51.20" y1="545.50" x2="57.50" y2="545.50" stroke="#000" stroke-width="2.6" stroke-linecap="butt"/>
<text x="47.9" y="550.7" style="font-family:'Liberation Serif',serif;font-weight:bold;font-size:16px" text-anchor="end" fill="#000" >60</text>
<line x1="51.20" y1="499.40" x2="57.50" y2="499.40" stroke="#000" stroke-width="2.6" stroke-linecap="butt"/>
<text x="47.9" y="504.6" style="font-family:'Liberation Serif',serif;font-weight:bold;font-size:16px" text-anchor="end" fill="#000" >70</text>
<line x1="51.20" y1="453.30" x2="57.50" y2="453.30" stroke="#000" stroke-width="2.6" stroke-linecap="butt"/>
<text x="47.9" y="458.5" style="font-family:'Liberation Serif',serif;font-weight:bold;font-size:16px" text-anchor="end" fill="#000" >80</text>
<line x1="51.20" y1="407.20" x2="57.50" y2="407.20" stroke="#000" stroke-width="2.6" stroke-linecap="butt"/>
<text x="47.9" y="412.4" style="font-family:'Liberation Serif',serif;font-weight:bold;font-size:16px" text-anchor="end" fill="#000" >90</text>
<line x1="51.20" y1="361.10" x2="57.50" y2="361.10" stroke="#000" stroke-width="2.6" stroke-linecap="butt"/>
<text x="47.9" y="366.3" style="font-family:'Liberation Serif',serif;font-weight:bold;font-size:16px" text-anchor="end" fill="#000" >100</text>
<line x1="53.60" y1="568.55" x2="57.50" y2="568.55" stroke="#000" stroke-width="2.6" stroke-linecap="butt"/>
<line x1="53.60" y1="522.45" x2="57.50" y2="522.45" stroke="#000" stroke-width="2.6" stroke-linecap="butt"/>
<line x1="53.60" y1="476.35" x2="57.50" y2="476.35" stroke="#000" stroke-width="2.6" stroke-linecap="butt"/>
<line x1="53.60" y1="430.25" x2="57.50" y2="430.25" stroke="#000" stroke-width="2.6" stroke-linecap="butt"/>
<line x1="53.60" y1="384.15" x2="57.50" y2="384.15" stroke="#000" stroke-width="2.6" stroke-linecap="butt"/>
<line x1="53.60" y1="338.05" x2="57.50" y2="338.05" stroke="#000" stroke-width="2.6" stroke-linecap="butt"/>
<rect x="78.30" y="381.50" width="19.00" height="211.60" fill="#000" />
<rect x="100.40" y="386.90" width="20.20" height="206.20" fill="#f00" />
<rect x="123.00" y="377.10" width="19.50" height="216.00" fill="#00f" />
<rect x="184.20" y="538.60" width="18.90" height="54.50" fill="#000" />
<rect x="206.30" y="536.50" width="19.60" height="56.60" fill="#f00" />
<rect x="228.80" y="529.90" width="19.50" height="63.20" fill="#00f" />
<rect x="290.50" y="549.50" width="19.00" height="43.60" fill="#000" />
<rect x="312.60" y="553.90" width="18.50" height="39.20" fill="#f00" />
<rect x="334.30" y="540.90" width="19.50" height="52.20" fill="#00f" />
<line x1="110.20" y1="593.10" x2="110.20" y2="598.30" stroke="#000" stroke-width="2.6" stroke-linecap="butt"/>
<line x1="216.20" y1="593.10" x2="216.20" y2="598.30" stroke="#000" stroke-width="2.6" stroke-linecap="butt"/>
<line x1="322.00" y1="593.10" x2="322.00" y2="598.30" stroke="#000" stroke-width="2.6" stroke-linecap="butt"/>
<line x1="163.20" y1="593.10" x2="163.20" y2="596.00" stroke="#000" stroke-width="2.6" stroke-linecap="butt"/>
<line x1="269.00" y1="593.10" x2="269.00" y2="596.00" stroke="#000" stroke-width="2.6" stroke-linecap="butt"/>
<line x1="57.50" y1="593.10" x2="57.50" y2="596.30" stroke="#000" stroke-width="2.6" stroke-linecap="butt"/>
<rect x="57.50" y="336.80" width="317.00" height="256.30" fill="none" stroke="#000" stroke-width="3.1" stroke-linejoin="round"/>
<text x="110.2" y="614.3" style="font-family:'Liberation Serif',serif;font-weight:bold;font-size:16px" text-anchor="middle" fill="#000" >CE</text>
<text x="216.2" y="614.3" style="font-family:'Liberation Serif',serif;font-weight:bold;font-size:16px" text-anchor="middle" fill="#000" >VE</text>
<text x="322.0" y="614.3" style="font-family:'Liberation Serif',serif;font-weight:bold;font-size:16px" text-anchor="middle" fill="#000" >EE</text>
<text x="0.0" y="0.0" style="font-family:'Liberation Serif',serif;font-weight:bold;font-size:16.6px" text-anchor="middle" fill="#000" transform="translate(17.4,464) rotate(-90)">Efficiency (%)</text>
<rect x="222.50" y="350.90" width="39.30" height="19.40" fill="#000" />
<rect x="222.50" y="372.40" width="39.30" height="19.80" fill="#f00" />
<rect x="222.50" y="394.70" width="39.30" height="19.40" fill="#00f" />
<text x="265.9" y="366.9" style="font-family:'Liberation Serif',serif;font-weight:bold;font-size:17.8px" text-anchor="start" fill="#000" >CF</text>
<text x="265.9" y="388.2" style="font-family:'Liberation Serif',serif;font-weight:bold;font-size:17.8px" text-anchor="start" fill="#000" >PVDF-CF</text>
<text x="265.9" y="410.1" style="font-family:'Liberation Serif',serif;font-weight:bold;font-size:17.8px" text-anchor="start" fill="#000" >G-PVDF-CF</text>
<text x="1.3" y="334.0" style="font-family:'Liberation Sans',sans-serif;font-weight:bold;font-size:37.5px" text-anchor="start" fill="#000" >c</text>
<line x1="437.60" y1="590.50" x2="443.00" y2="590.50" stroke="#000" stroke-width="2.6" stroke-linecap="butt"/>
<text x="434.3" y="596.1" style="font-family:'Liberation Serif',serif;font-weight:bold;font-size:16.5px" text-anchor="end" fill="#000" >0</text>
<line x1="437.60" y1="562.35" x2="443.00" y2="562.35" stroke="#000" stroke-width="2.6" stroke-linecap="butt"/>
<text x="434.3" y="568.0" style="font-family:'Liberation Serif',serif;font-weight:bold;font-size:16.5px" text-anchor="end" fill="#000" >10</text>
<line x1="437.60" y1="534.20" x2="443.00" y2="534.20" stroke="#000" stroke-width="2.6" stroke-linecap="butt"/>
<text x="434.3" y="539.8" style="font-family:'Liberation Serif',serif;font-weight:bold;font-size:16.5px" text-anchor="end" fill="#000" >20</text>
<line x1="437.60" y1="506.05" x2="443.00" y2="506.05" stroke="#000" stroke-width="2.6" stroke-linecap="butt"/>
<text x="434.3" y="511.7" style="font-family:'Liberation Serif',serif;font-weight:bold;font-size:16.5px" text-anchor="end" fill="#000" >30</text>
<line x1="437.60" y1="477.90" x2="443.00" y2="477.90" stroke="#000" stroke-width="2.6" stroke-linecap="butt"/>
<text x="434.3" y="483.5" style="font-family:'Liberation Serif',serif;font-weight:bold;font-size:16.5px" text-anchor="end" fill="#000" >40</text>
<line x1="437.60" y1="449.75" x2="443.00" y2="449.75" stroke="#000" stroke-width="2.6" stroke-linecap="butt"/>
<text x="434.3" y="455.4" style="font-family:'Liberation Serif',serif;font-weight:bold;font-size:16.5px" text-anchor="end" fill="#000" >50</text>
<line x1="437.60" y1="421.60" x2="443.00" y2="421.60" stroke="#000" stroke-width="2.6" stroke-linecap="butt"/>
<text x="434.3" y="427.2" style="font-family:'Liberation Serif',serif;font-weight:bold;font-size:16.5px" text-anchor="end" fill="#000" >60</text>
<line x1="437.60" y1="393.45" x2="443.00" y2="393.45" stroke="#000" stroke-width="2.6" stroke-linecap="butt"/>
<text x="434.3" y="399.1" style="font-family:'Liberation Serif',serif;font-weight:bold;font-size:16.5px" text-anchor="end" fill="#000" >70</text>
<line x1="437.60" y1="365.30" x2="443.00" y2="365.30" stroke="#000" stroke-width="2.6" stroke-linecap="butt"/>
<text x="434.3" y="370.9" style="font-family:'Liberation Serif',serif;font-weight:bold;font-size:16.5px" text-anchor="end" fill="#000" >80</text>
<line x1="437.60" y1="337.15" x2="443.00" y2="337.15" stroke="#000" stroke-width="2.6" stroke-linecap="butt"/>
<text x="434.3" y="342.8" style="font-family:'Liberation Serif',serif;font-weight:bold;font-size:16.5px" text-anchor="end" fill="#000" >90</text>
<line x1="439.80" y1="576.42" x2="443.00" y2="576.42" stroke="#000" stroke-width="2.6" stroke-linecap="butt"/>
<line x1="439.80" y1="548.27" x2="443.00" y2="548.27" stroke="#000" stroke-width="2.6" stroke-linecap="butt"/>
<line x1="439.80" y1="520.12" x2="443.00" y2="520.12" stroke="#000" stroke-width="2.6" stroke-linecap="butt"/>
<line x1="439.80" y1="491.98" x2="443.00" y2="491.98" stroke="#000" stroke-width="2.6" stroke-linecap="butt"/>
<line x1="439.80" y1="463.82" x2="443.00" y2="463.82" stroke="#000" stroke-width="2.6" stroke-linecap="butt"/>
<line x1="439.80" y1="435.68" x2="443.00" y2="435.68" stroke="#000" stroke-width="2.6" stroke-linecap="butt"/>
<line x1="439.80" y1="407.52" x2="443.00" y2="407.52" stroke="#000" stroke-width="2.6" stroke-linecap="butt"/>
<line x1="439.80" y1="379.38" x2="443.00" y2="379.38" stroke="#000" stroke-width="2.6" stroke-linecap="butt"/>
<line x1="439.80" y1="351.23" x2="443.00" y2="351.23" stroke="#000" stroke-width="2.6" stroke-linecap="butt"/>
<line x1="442.70" y1="590.80" x2="442.70" y2="596.80" stroke="#000" stroke-width="2.6" stroke-linecap="butt"/>
<text x="442.7" y="612.7" style="font-family:'Liberation Serif',serif;font-weight:bold;font-size:17px" text-anchor="middle" fill="#000" >0</text>
<line x1="505.80" y1="590.80" x2="505.80" y2="596.80" stroke="#000" stroke-width="2.6" stroke-linecap="butt"/>
<text x="505.8" y="612.7" style="font-family:'Liberation Serif',serif;font-weight:bold;font-size:17px" text-anchor="middle" fill="#000" >10</text>
<line x1="568.90" y1="590.80" x2="568.90" y2="596.80" stroke="#000" stroke-width="2.6" stroke-linecap="butt"/>
<text x="568.9" y="612.7" style="font-family:'Liberation Serif',serif;font-weight:bold;font-size:17px" text-anchor="middle" fill="#000" >20</text>
<line x1="632.00" y1="590.80" x2="632.00" y2="596.80" stroke="#000" stroke-width="2.6" stroke-linecap="butt"/>
<text x="632.0" y="612.7" style="font-family:'Liberation Serif',serif;font-weight:bold;font-size:17px" text-anchor="middle" fill="#000" >30</text>
<line x1="695.10" y1="590.80" x2="695.10" y2="596.80" stroke="#000" stroke-width="2.6" stroke-linecap="butt"/>
<text x="695.1" y="612.7" style="font-family:'Liberation Serif',serif;font-weight:bold;font-size:17px" text-anchor="middle" fill="#000" >40</text>
<line x1="758.20" y1="590.80" x2="758.20" y2="596.80" stroke="#000" stroke-width="2.6" stroke-linecap="butt"/>
<text x="758.2" y="612.7" style="font-family:'Liberation Serif',serif;font-weight:bold;font-size:17px" text-anchor="middle" fill="#000" >50</text>
<line x1="474.25" y1="590.80" x2="474.25" y2="594.60" stroke="#000" stroke-width="2.6" stroke-linecap="butt"/>
<line x1="537.35" y1="590.80" x2="537.35" y2="594.60" stroke="#000" stroke-width="2.6" stroke-linecap="butt"/>
<line x1="600.45" y1="590.80" x2="600.45" y2="594.60" stroke="#000" stroke-width="2.6" stroke-linecap="butt"/>
<line x1="663.55" y1="590.80" x2="663.55" y2="594.60" stroke="#000" stroke-width="2.6" stroke-linecap="butt"/>
<line x1="726.65" y1="590.80" x2="726.65" y2="594.60" stroke="#000" stroke-width="2.6" stroke-linecap="butt"/>
<text x="600.5" y="638.9" style="font-family:'Liberation Serif',serif;font-weight:bold;font-size:15.8px" text-anchor="middle" fill="#000" >Cycle number</text>
<text x="0.0" y="0.0" style="font-family:'Liberation Serif',serif;font-weight:bold;font-size:17.6px" text-anchor="middle" fill="#000" transform="translate(411.8,463.6) rotate(-90)">Energy efficient (%)</text>
<g clip-path="url(#cpD)">
<polyline points="455.32,410.90 461.63,412.00 467.94,410.00 474.25,407.00 480.56,405.50 486.87,405.70 493.18,402.00 499.49,404.00 505.80,403.80 512.11,450.30 518.42,454.20 524.73,453.40 531.04,452.00 537.35,450.50 543.66,448.70 549.97,449.00 556.28,449.50 562.59,449.20 568.90,449.00 575.21,478.40 581.52,476.00 587.83,474.70 594.14,476.00 600.45,477.10 606.76,477.10 613.07,476.50 619.38,475.60 625.69,476.50 632.00,478.40 638.31,494.50 644.62,494.80 650.93,494.00 657.24,494.80 663.55,494.80 669.86,494.80 676.17,494.50 682.48,494.00 688.79,494.50 695.10,494.50 701.41,400.90 707.72,402.70 714.03,402.70 720.34,402.70 726.65,403.70 732.96,407.50 739.27,409.70 745.58,409.70 751.89,411.40 758.20,412.00" fill="none" stroke="#000" stroke-width="2.4" stroke-linejoin="round"/>
<circle cx="455.32" cy="410.90" r="3.0" fill="#000"/>
<circle cx="461.63" cy="412.00" r="3.0" fill="#000"/>
<circle cx="467.94" cy="410.00" r="3.0" fill="#000"/>
<circle cx="474.25" cy="407.00" r="3.0" fill="#000"/>
<circle cx="480.56" cy="405.50" r="3.0" fill="#000"/>
<circle cx="486.87" cy="405.70" r="3.0" fill="#000"/>
<circle cx="493.18" cy="402.00" r="3.0" fill="#000"/>
<circle cx="499.49" cy="404.00" r="3.0" fill="#000"/>
<circle cx="505.80" cy="403.80" r="3.0" fill="#000"/>
<circle cx="512.11" cy="450.30" r="3.0" fill="#000"/>
<circle cx="518.42" cy="454.20" r="3.0" fill="#000"/>
<circle cx="524.73" cy="453.40" r="3.0" fill="#000"/>
<circle cx="531.04" cy="452.00" r="3.0" fill="#000"/>
<circle cx="537.35" cy="450.50" r="3.0" fill="#000"/>
<circle cx="543.66" cy="448.70" r="3.0" fill="#000"/>
<circle cx="549.97" cy="449.00" r="3.0" fill="#000"/>
<circle cx="556.28" cy="449.50" r="3.0" fill="#000"/>
<circle cx="562.59" cy="449.20" r="3.0" fill="#000"/>
<circle cx="568.90" cy="449.00" r="3.0" fill="#000"/>
<circle cx="575.21" cy="478.40" r="3.0" fill="#000"/>
<circle cx="581.52" cy="476.00" r="3.0" fill="#000"/>
<circle cx="587.83" cy="474.70" r="3.0" fill="#000"/>
<circle cx="594.14" cy="476.00" r="3.0" fill="#000"/>
<circle cx="600.45" cy="477.10" r="3.0" fill="#000"/>
<circle cx="606.76" cy="477.10" r="3.0" fill="#000"/>
<circle cx="613.07" cy="476.50" r="3.0" fill="#000"/>
<circle cx="619.38" cy="475.60" r="3.0" fill="#000"/>
<circle cx="625.69" cy="476.50" r="3.0" fill="#000"/>
<circle cx="632.00" cy="478.40" r="3.0" fill="#000"/>
<circle cx="638.31" cy="494.50" r="3.0" fill="#000"/>
<circle cx="644.62" cy="494.80" r="3.0" fill="#000"/>
<circle cx="650.93" cy="494.00" r="3.0" fill="#000"/>
<circle cx="657.24" cy="494.80" r="3.0" fill="#000"/>
<circle cx="663.55" cy="494.80" r="3.0" fill="#000"/>
<circle cx="669.86" cy="494.80" r="3.0" fill="#000"/>
<circle cx="676.17" cy="494.50" r="3.0" fill="#000"/>
<circle cx="682.48" cy="494.00" r="3.0" fill="#000"/>
<circle cx="688.79" cy="494.50" r="3.0" fill="#000"/>
<circle cx="695.10" cy="494.50" r="3.0" fill="#000"/>
<circle cx="701.41" cy="400.90" r="3.0" fill="#000"/>
<circle cx="707.72" cy="402.70" r="3.0" fill="#000"/>
<circle cx="714.03" cy="402.70" r="3.0" fill="#000"/>
<circle cx="720.34" cy="402.70" r="3.0" fill="#000"/>
<circle cx="726.65" cy="403.70" r="3.0" fill="#000"/>
<circle cx="732.96" cy="407.50" r="3.0" fill="#000"/>
<circle cx="739.27" cy="409.70" r="3.0" fill="#000"/>
<circle cx="745.58" cy="409.70" r="3.0" fill="#000"/>
<circle cx="751.89" cy="411.40" r="3.0" fill="#000"/>
<circle cx="758.20" cy="412.00" r="3.0" fill="#000"/>
<polyline points="455.32,414.00 461.63,412.90 467.94,410.10 474.25,406.60 480.56,405.10 486.87,405.40 493.18,403.80 499.49,404.60 505.80,407.00 512.11,452.60 518.42,450.70 524.73,450.30 531.04,451.80 537.35,450.30 543.66,450.30 549.97,449.20 556.28,449.50 562.59,449.20 568.90,448.70 575.21,473.80 581.52,471.00 587.83,469.80 594.14,469.20 600.45,468.30 606.76,467.40 613.07,468.30 619.38,469.20 625.69,469.20 632.00,471.00 638.31,494.50 644.62,494.80 650.93,494.00 657.24,494.80 663.55,494.80 669.86,494.80 676.17,494.50 682.48,494.00 688.79,494.50 695.10,494.50 701.41,406.50 707.72,409.30 714.03,411.10 720.34,411.40 726.65,413.50 732.96,413.50 739.27,414.20 745.58,414.90 751.89,414.90 758.20,414.20" fill="none" stroke="#f00" stroke-width="2.4" stroke-linejoin="round"/>
<circle cx="455.32" cy="414.00" r="3.0" fill="#f00"/>
<circle cx="461.63" cy="412.90" r="3.0" fill="#f00"/>
<circle cx="467.94" cy="410.10" r="3.0" fill="#f00"/>
<circle cx="474.25" cy="406.60" r="3.0" fill="#f00"/>
<circle cx="480.56" cy="405.10" r="3.0" fill="#f00"/>
<circle cx="486.87" cy="405.40" r="3.0" fill="#f00"/>
<circle cx="493.18" cy="403.80" r="3.0" fill="#f00"/>
<circle cx="499.49" cy="404.60" r="3.0" fill="#f00"/>
<circle cx="505.80" cy="407.00" r="3.0" fill="#f00"/>
<circle cx="512.11" cy="452.60" r="3.0" fill="#f00"/>
<circle cx="518.42" cy="450.70" r="3.0" fill="#f00"/>
<circle cx="524.73" cy="450.30" r="3.0" fill="#f00"/>
<circle cx="531.04" cy="451.80" r="3.0" fill="#f00"/>
<circle cx="537.35" cy="450.30" r="3.0" fill="#f00"/>
<circle cx="543.66" cy="450.30" r="3.0" fill="#f00"/>
<circle cx="549.97" cy="449.20" r="3.0" fill="#f00"/>
<circle cx="556.28" cy="449.50" r="3.0" fill="#f00"/>
<circle cx="562.59" cy="449.20" r="3.0" fill="#f00"/>
<circle cx="568.90" cy="448.70" r="3.0" fill="#f00"/>
<circle cx="575.21" cy="473.80" r="3.0" fill="#f00"/>
<circle cx="581.52" cy="471.00" r="3.0" fill="#f00"/>
<circle cx="587.83" cy="469.80" r="3.0" fill="#f00"/>
<circle cx="594.14" cy="469.20" r="3.0" fill="#f00"/>
<circle cx="600.45" cy="468.30" r="3.0" fill="#f00"/>
<circle cx="606.76" cy="467.40" r="3.0" fill="#f00"/>
<circle cx="613.07" cy="468.30" r="3.0" fill="#f00"/>
<circle cx="619.38" cy="469.20" r="3.0" fill="#f00"/>
<circle cx="625.69" cy="469.20" r="3.0" fill="#f00"/>
<circle cx="632.00" cy="471.00" r="3.0" fill="#f00"/>
<circle cx="638.31" cy="494.50" r="3.0" fill="#f00"/>
<circle cx="644.62" cy="494.80" r="3.0" fill="#f00"/>
<circle cx="650.93" cy="494.00" r="3.0" fill="#f00"/>
<circle cx="657.24" cy="494.80" r="3.0" fill="#f00"/>
<circle cx="663.55" cy="494.80" r="3.0" fill="#f00"/>
<circle cx="669.86" cy="494.80" r="3.0" fill="#f00"/>
<circle cx="676.17" cy="494.50" r="3.0" fill="#f00"/>
<circle cx="682.48" cy="494.00" r="3.0" fill="#f00"/>
<circle cx="688.79" cy="494.50" r="3.0" fill="#f00"/>
<circle cx="695.10" cy="494.50" r="3.0" fill="#f00"/>
<circle cx="701.41" cy="406.50" r="3.0" fill="#f00"/>
<circle cx="707.72" cy="409.30" r="3.0" fill="#f00"/>
<circle cx="714.03" cy="411.10" r="3.0" fill="#f00"/>
<circle cx="720.34" cy="411.40" r="3.0" fill="#f00"/>
<circle cx="726.65" cy="413.50" r="3.0" fill="#f00"/>
<circle cx="732.96" cy="413.50" r="3.0" fill="#f00"/>
<circle cx="739.27" cy="414.20" r="3.0" fill="#f00"/>
<circle cx="745.58" cy="414.90" r="3.0" fill="#f00"/>
<circle cx="751.89" cy="414.90" r="3.0" fill="#f00"/>
<circle cx="758.20" cy="414.20" r="3.0" fill="#f00"/>
<polyline points="455.32,394.40 461.63,393.60 467.94,393.30 474.25,395.20 480.56,394.10 486.87,392.90 493.18,393.60 499.49,397.60 505.80,397.60 512.11,436.90 518.42,436.60 524.73,437.70 531.04,435.70 537.35,434.60 543.66,435.40 549.97,436.90 556.28,436.60 562.59,436.20 568.90,436.20 575.21,462.40 581.52,465.20 587.83,466.60 594.14,467.40 600.45,468.00 606.76,468.30 613.07,468.30 619.38,468.30 625.69,468.30 632.00,468.30 638.31,493.90 644.62,494.80 650.93,493.00 657.24,494.80 663.55,494.80 669.86,494.80 676.17,493.90 682.48,493.00 688.79,493.90 695.10,494.20 701.41,394.40 707.72,391.60 714.03,390.90 720.34,390.90 726.65,391.60 732.96,391.60 739.27,390.90 745.58,390.40 751.89,393.50 758.20,391.60" fill="none" stroke="#00f" stroke-width="2.4" stroke-linejoin="round"/>
<circle cx="455.32" cy="394.40" r="3.0" fill="#00f"/>
<circle cx="461.63" cy="393.60" r="3.0" fill="#00f"/>
<circle cx="467.94" cy="393.30" r="3.0" fill="#00f"/>
<circle cx="474.25" cy="395.20" r="3.0" fill="#00f"/>
<circle cx="480.56" cy="394.10" r="3.0" fill="#00f"/>
<circle cx="486.87" cy="392.90" r="3.0" fill="#00f"/>
<circle cx="493.18" cy="393.60" r="3.0" fill="#00f"/>
<circle cx="499.49" cy="397.60" r="3.0" fill="#00f"/>
<circle cx="505.80" cy="397.60" r="3.0" fill="#00f"/>
<circle cx="512.11" cy="436.90" r="3.0" fill="#00f"/>
<circle cx="518.42" cy="436.60" r="3.0" fill="#00f"/>
<circle cx="524.73" cy="437.70" r="3.0" fill="#00f"/>
<circle cx="531.04" cy="435.70" r="3.0" fill="#00f"/>
<circle cx="537.35" cy="434.60" r="3.0" fill="#00f"/>
<circle cx="543.66" cy="435.40" r="3.0" fill="#00f"/>
<circle cx="549.97" cy="436.90" r="3.0" fill="#00f"/>
<circle cx="556.28" cy="436.60" r="3.0" fill="#00f"/>
<circle cx="562.59" cy="436.20" r="3.0" fill="#00f"/>
<circle cx="568.90" cy="436.20" r="3.0" fill="#00f"/>
<circle cx="575.21" cy="462.40" r="3.0" fill="#00f"/>
<circle cx="581.52" cy="465.20" r="3.0" fill="#00f"/>
<circle cx="587.83" cy="466.60" r="3.0" fill="#00f"/>
<circle cx="594.14" cy="467.40" r="3.0" fill="#00f"/>
<circle cx="600.45" cy="468.00" r="3.0" fill="#00f"/>
<circle cx="606.76" cy="468.30" r="3.0" fill="#00f"/>
<circle cx="613.07" cy="468.30" r="3.0" fill="#00f"/>
<circle cx="619.38" cy="468.30" r="3.0" fill="#00f"/>
<circle cx="625.69" cy="468.30" r="3.0" fill="#00f"/>
<circle cx="632.00" cy="468.30" r="3.0" fill="#00f"/>
<circle cx="638.31" cy="493.90" r="3.0" fill="#00f"/>
<circle cx="644.62" cy="494.80" r="3.0" fill="#00f"/>
<circle cx="650.93" cy="493.00" r="3.0" fill="#00f"/>
<circle cx="657.24" cy="494.80" r="3.0" fill="#00f"/>
<circle cx="663.55" cy="494.80" r="3.0" fill="#00f"/>
<circle cx="669.86" cy="494.80" r="3.0" fill="#00f"/>
<circle cx="676.17" cy="493.90" r="3.0" fill="#00f"/>
<circle cx="682.48" cy="493.00" r="3.0" fill="#00f"/>
<circle cx="688.79" cy="493.90" r="3.0" fill="#00f"/>
<circle cx="695.10" cy="494.20" r="3.0" fill="#00f"/>
<circle cx="701.41" cy="394.40" r="3.0" fill="#00f"/>
<circle cx="707.72" cy="391.60" r="3.0" fill="#00f"/>
<circle cx="714.03" cy="390.90" r="3.0" fill="#00f"/>
<circle cx="720.34" cy="390.90" r="3.0" fill="#00f"/>
<circle cx="726.65" cy="391.60" r="3.0" fill="#00f"/>
<circle cx="732.96" cy="391.60" r="3.0" fill="#00f"/>
<circle cx="739.27" cy="390.90" r="3.0" fill="#00f"/>
<circle cx="745.58" cy="390.40" r="3.0" fill="#00f"/>
<circle cx="751.89" cy="393.50" r="3.0" fill="#00f"/>
<circle cx="758.20" cy="391.60" r="3.0" fill="#00f"/>
</g>
<rect x="443.00" y="337.20" width="314.60" height="253.60" fill="none" stroke="#000" stroke-width="3.1" stroke-linejoin="round"/>
<line x1="458.20" y1="533.90" x2="488.70" y2="533.90" stroke="#000" stroke-width="2.2" stroke-linecap="butt"/>
<circle cx="473.50" cy="533.90" r="2.6" fill="#000"/>
<line x1="458.20" y1="550.50" x2="488.70" y2="550.50" stroke="#f00" stroke-width="2.2" stroke-linecap="butt"/>
<circle cx="473.50" cy="550.50" r="2.6" fill="#f00"/>
<line x1="458.20" y1="567.10" x2="488.70" y2="567.10" stroke="#00f" stroke-width="2.2" stroke-linecap="butt"/>
<circle cx="473.50" cy="567.10" r="2.6" fill="#00f"/>
<text x="492.1" y="538.4" style="font-family:'Liberation Serif',serif;font-weight:bold;font-size:13px" text-anchor="start" fill="#000" >CF</text>
<text x="492.1" y="554.8" style="font-family:'Liberation Serif',serif;font-weight:bold;font-size:13px" text-anchor="start" fill="#000" >PVDF-CF</text>
<text x="492.1" y="571.3" style="font-family:'Liberation Serif',serif;font-weight:bold;font-size:13px" text-anchor="start" fill="#000" >G-PVDF-CF</text>
<text x="455.8" y="381.1" style="font-family:'Liberation Sans',sans-serif;font-weight:bold;font-size:10.3px" fill="#222">10 mA cm<tspan dx="0.6" dy="-4.2" style="font-size:7px">-2</tspan></text>
<text x="521.4" y="420.6" style="font-family:'Liberation Sans',sans-serif;font-weight:bold;font-size:10.3px" fill="#222">20 mA cm<tspan dx="0.6" dy="-4.2" style="font-size:7px">-2</tspan></text>
<text x="582.5" y="451.0" style="font-family:'Liberation Sans',sans-serif;font-weight:bold;font-size:10.3px" fill="#222">30 mA cm<tspan dx="0.6" dy="-4.2" style="font-size:7px">-2</tspan></text>
<text x="638.8" y="482.9" style="font-family:'Liberation Sans',sans-serif;font-weight:bold;font-size:10.3px" fill="#222">40 mA cm<tspan dx="0.6" dy="-4.2" style="font-size:7px">-2</tspan></text>
<text x="693.2" y="376.5" style="font-family:'Liberation Sans',sans-serif;font-weight:bold;font-size:10.3px" fill="#222">10 mA cm<tspan dx="0.6" dy="-4.2" style="font-size:7px">-2</tspan></text>
<text x="391.9" y="334.6" style="font-family:'Liberation Sans',sans-serif;font-weight:bold;font-size:37px" text-anchor="start" fill="#000" >d</text>
</svg>
</body></html>
